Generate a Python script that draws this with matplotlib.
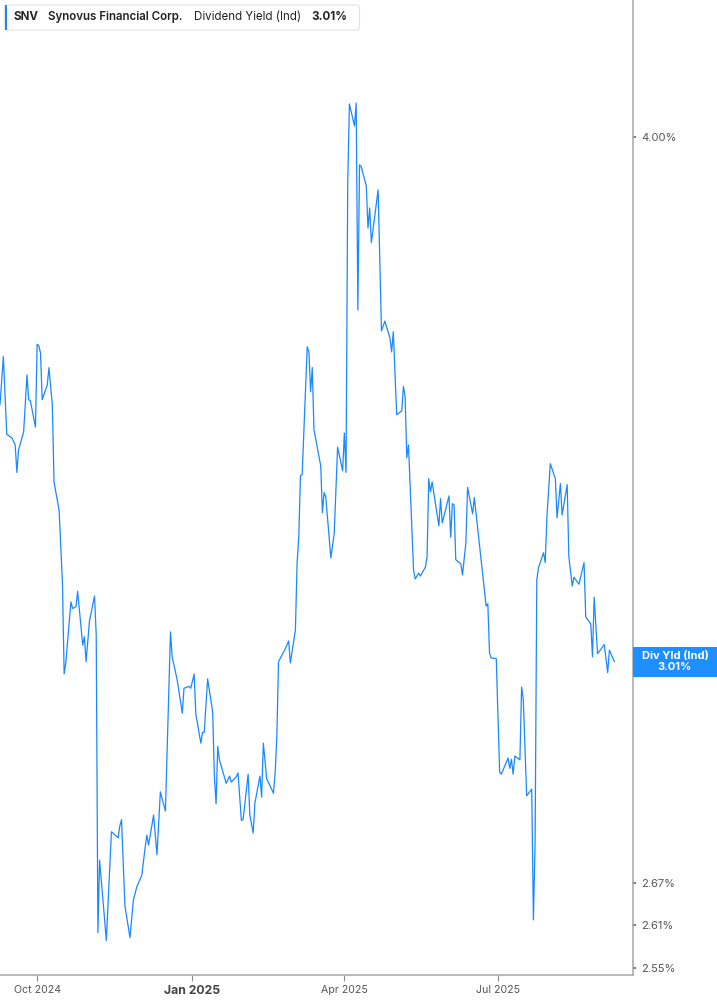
import matplotlib
matplotlib.use("Agg")
import matplotlib.pyplot as plt
from matplotlib.patches import FancyBboxPatch, Rectangle
from matplotlib.ticker import NullLocator
import pandas as pd

plt.rcParams["font.family"] = ["Inter", "DejaVu Sans"]

# header / labels
ticker = "SNV"
company = "Synovus Financial Corp."
metric = "Dividend Yield (Ind)"
short_metric = "Div Yld (Ind)"

# daily dividend yield (%)
dates = [
    "2024-09-09", "2024-09-11", "2024-09-13", "2024-09-16", "2024-09-17", "2024-09-18",
    "2024-09-19", "2024-09-20", "2024-09-23", "2024-09-25", "2024-09-26", "2024-09-27",
    "2024-09-30", "2024-10-01", "2024-10-02", "2024-10-03", "2024-10-04", "2024-10-07",
    "2024-10-08", "2024-10-10", "2024-10-11", "2024-10-14", "2024-10-16", "2024-10-17",
    "2024-10-18", "2024-10-21", "2024-10-22", "2024-10-24", "2024-10-25", "2024-10-28",
    "2024-10-29", "2024-10-30", "2024-11-01", "2024-11-04", "2024-11-05", "2024-11-06",
    "2024-11-07", "2024-11-11", "2024-11-14", "2024-11-18", "2024-11-19", "2024-11-20",
    "2024-11-22", "2024-11-25", "2024-11-27", "2024-11-29", "2024-12-02", "2024-12-04",
    "2024-12-05", "2024-12-06", "2024-12-09", "2024-12-11", "2024-12-13", "2024-12-16",
    "2024-12-19", "2024-12-20", "2024-12-23", "2024-12-26", "2024-12-27", "2024-12-30",
    "2024-12-31", "2025-01-02", "2025-01-03", "2025-01-06", "2025-01-07", "2025-01-08",
    "2025-01-10", "2025-01-13", "2025-01-14", "2025-01-15", "2025-01-16", "2025-01-17",
    "2025-01-21", "2025-01-23", "2025-01-24", "2025-01-27", "2025-01-28", "2025-01-30",
    "2025-01-31", "2025-02-03", "2025-02-04", "2025-02-06", "2025-02-07", "2025-02-10",
    "2025-02-11", "2025-02-12", "2025-02-14", "2025-02-18", "2025-02-19", "2025-02-20",
    "2025-02-21", "2025-02-25", "2025-02-27", "2025-02-28", "2025-03-03", "2025-03-04",
    "2025-03-05", "2025-03-06", "2025-03-07", "2025-03-10", "2025-03-11", "2025-03-12",
    "2025-03-13", "2025-03-14", "2025-03-18", "2025-03-19", "2025-03-20", "2025-03-21",
    "2025-03-24", "2025-03-26", "2025-03-28", "2025-03-31", "2025-04-01", "2025-04-02",
    "2025-04-03", "2025-04-04", "2025-04-07", "2025-04-08", "2025-04-09", "2025-04-10",
    "2025-04-11", "2025-04-14", "2025-04-15", "2025-04-16", "2025-04-17", "2025-04-21",
    "2025-04-23", "2025-04-25", "2025-04-28", "2025-04-29", "2025-04-30", "2025-05-02",
    "2025-05-05", "2025-05-06", "2025-05-07", "2025-05-08", "2025-05-09", "2025-05-12",
    "2025-05-13", "2025-05-15", "2025-05-16", "2025-05-19", "2025-05-20", "2025-05-21",
    "2025-05-22", "2025-05-23", "2025-05-27", "2025-05-28", "2025-05-29", "2025-06-02",
    "2025-06-03", "2025-06-04", "2025-06-05", "2025-06-06", "2025-06-09", "2025-06-10",
    "2025-06-12", "2025-06-13", "2025-06-16", "2025-06-17", "2025-06-24", "2025-06-25",
    "2025-06-26", "2025-06-27", "2025-06-30", "2025-07-02", "2025-07-03", "2025-07-07",
    "2025-07-08", "2025-07-09", "2025-07-10", "2025-07-11", "2025-07-14", "2025-07-15",
    "2025-07-16", "2025-07-18", "2025-07-21", "2025-07-22", "2025-07-23", "2025-07-24",
    "2025-07-25", "2025-07-28", "2025-07-29", "2025-07-30", "2025-08-01", "2025-08-04",
    "2025-08-05", "2025-08-07", "2025-08-08", "2025-08-11", "2025-08-12", "2025-08-14",
    "2025-08-15", "2025-08-18", "2025-08-21", "2025-08-22", "2025-08-25", "2025-08-26",
    "2025-08-27", "2025-08-29", "2025-09-02", "2025-09-04", "2025-09-05", "2025-09-08",
]
div_yield = [
    3.460, 3.551, 3.405, 3.398, 3.392, 3.385,
    3.335, 3.376, 3.409, 3.516, 3.469, 3.467,
    3.418, 3.575, 3.572, 3.558, 3.469, 3.497,
    3.530, 3.460, 3.318, 3.268, 3.141, 2.990,
    3.008, 3.109, 3.098, 3.101, 3.127, 3.037,
    3.051, 3.010, 3.077, 3.119, 3.054, 2.599,
    2.703, 2.588, 2.745, 2.736, 2.754, 2.763,
    2.637, 2.592, 2.645, 2.664, 2.681, 2.722,
    2.740, 2.725, 2.770, 2.711, 2.805, 2.776,
    3.059, 3.018, 2.980, 2.927, 2.967, 2.970,
    2.967, 2.990, 2.926, 2.880, 2.897, 2.897,
    2.982, 2.929, 2.828, 2.787, 2.875, 2.854,
    2.818, 2.829, 2.820, 2.828, 2.834, 2.762,
    2.763, 2.832, 2.770, 2.743, 2.788, 2.829,
    2.797, 2.880, 2.825, 2.803, 2.834, 2.890,
    3.010, 3.031, 3.044, 3.008, 3.062, 3.175,
    3.220, 3.329, 3.331, 3.570, 3.560, 3.484,
    3.530, 3.413, 3.347, 3.263, 3.299, 3.291,
    3.184, 3.227, 3.381, 3.338, 3.407, 3.335,
    3.900, 4.072, 4.024, 4.074, 3.642, 3.940,
    3.936, 3.895, 3.807, 3.849, 3.777, 3.887,
    3.601, 3.620, 3.587, 3.560, 3.599, 3.441,
    3.448, 3.494, 3.475, 3.362, 3.385, 3.163,
    3.148, 3.158, 3.153, 3.168, 3.186, 3.324,
    3.300, 3.318, 3.240, 3.288, 3.245, 3.293,
    3.220, 3.279, 3.277, 3.181, 3.174, 3.155,
    3.210, 3.308, 3.261, 3.290, 3.102, 3.106,
    3.024, 3.016, 3.015, 2.835, 2.832, 2.857,
    2.841, 2.855, 2.832, 2.860, 2.854, 2.969,
    2.949, 2.799, 2.809, 2.617, 2.729, 3.146,
    3.167, 3.193, 3.176, 3.255, 3.351, 3.324,
    3.254, 3.315, 3.259, 3.313, 3.186, 3.136,
    3.151, 3.139, 3.176, 3.084, 3.072, 3.018,
    3.117, 3.023, 3.038, 2.992, 3.029, 3.010,
]

y_ticks = [2.55, 2.61, 2.67, 4.00]
x_ticks = ["2024-10-01", "2025-01-01", "2025-04-01", "2025-07-01"]
x_tick_labels = ["Oct 2024", "Jan 2025", "Apr 2025", "Jul 2025"]

LINE_BLUE = "#1a88ff"
W, H = 717, 1005

fig = plt.figure(figsize=(W / 100, H / 100), dpi=100)
ax = fig.add_axes([0, 30 / H, 633 / W, 1 - 30 / H])

x = pd.to_datetime(dates)
ax.plot(x, div_yield, color=LINE_BLUE, linewidth=0.9)

# log scale, as on the source chart
ax.set_yscale("log")
ax.set_ylim(2.540, 4.308)
ax.set_xlim(pd.Timestamp("2024-09-09"), pd.Timestamp("2025-09-19"))

ax.yaxis.tick_right()
ax.set_yticks(y_ticks)
ax.set_yticklabels([f"{v:.2f}%" for v in y_ticks])
ax.yaxis.set_minor_locator(NullLocator())
ax.tick_params(axis="y", length=2, width=1.2, color="#666666", pad=4,
               labelsize=8, labelcolor="#555555")

ax.set_xticks(pd.to_datetime(x_ticks))
ax.set_xticklabels(x_tick_labels)
ax.xaxis.set_minor_locator(NullLocator())
ax.tick_params(axis="x", length=4, width=0.8, color="#888888", pad=3,
               labelsize=7.6, labelcolor="#555555")
for lbl in ax.get_xticklabels():
    if lbl.get_text().startswith("Jan"):
        lbl.set_fontweight("bold")
        lbl.set_fontsize(8.8)
        lbl.set_color("#444444")

for side in ["left", "top"]:
    ax.spines[side].set_visible(False)
for side in ["right", "bottom"]:
    ax.spines[side].set_color("#a6a6a6")
    ax.spines[side].set_linewidth(1.1)

# overlay in figure pixels for header and value flag
ov = fig.add_axes([0, 0, 1, 1], zorder=5)
ov.set_xlim(0, W)
ov.set_ylim(0, H)
ov.axis("off")
ov.patch.set_alpha(0)

ov.add_patch(FancyBboxPatch((4.5, H - 30), 355, 25,
                            boxstyle="round,pad=0,rounding_size=3",
                            facecolor="white", edgecolor="#e2e2e2", linewidth=0.8))
ov.add_patch(Rectangle((4.5, H - 30), 2.5, 25, facecolor=LINE_BLUE, edgecolor="none"))

hy = H - 17
ov.text(13, hy, ticker, fontsize=8.3, fontweight="bold", color="#222222", va="center")
ov.text(48, hy, company, fontsize=8.3, fontweight="semibold", color="#222222", va="center")
ov.text(194, hy, metric, fontsize=8.3, color="#222222", va="center")
ov.text(311.5, hy, f"{div_yield[-1]:.2f}%", fontsize=8.3, fontweight="bold",
        color="#222222", va="center")

# value flag on the right axis, at the last value
fig.canvas.draw()
last_y = ax.transData.transform((0, div_yield[-1]))[1]
ov.add_patch(Rectangle((633, last_y - 15), W - 633, 30, facecolor="#1e8fff",
                       edgecolor="none"))
ov.text(675, last_y + 5.5, short_metric, fontsize=8, fontweight="bold", color="white",
        ha="center", va="center")
ov.text(675, last_y - 5.5, f"{div_yield[-1]:.2f}%", fontsize=8, fontweight="bold",
        color="white", ha="center", va="center")

fig.savefig("out.png", dpi=100)
